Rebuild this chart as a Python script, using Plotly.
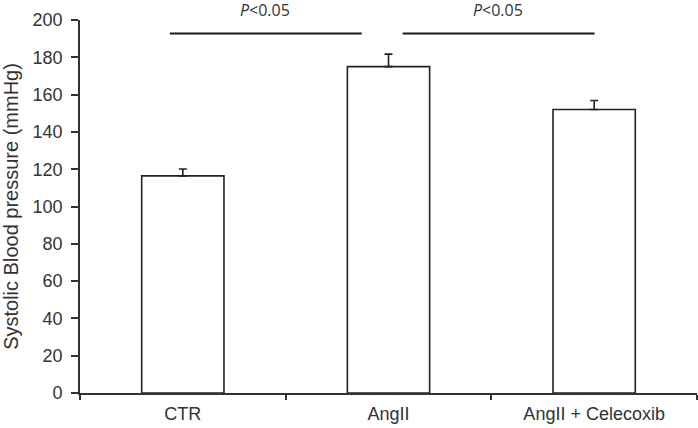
import plotly.graph_objects as go

categories = ["CTR", "AngII", "AngII + Celecoxib"]
sbp_mean = [116.4, 175.0, 152.0]
sbp_sem = [3.7, 6.7, 4.8]

# significance annotations: (from category index, to category index, label)
sig_pairs = [(0, 1, "<i>P</i><0.05"), (1, 2, "<i>P</i><0.05")]
sig_level = 192.8
sig_line_trim = [(-0.063, 0.870), (1.069, 2.002)]
sig_text_x = [0.40, 1.53]

fig = go.Figure()
fig.add_trace(go.Bar(
    x=categories, y=sbp_mean,
    marker=dict(color="white", line=dict(color="#222222", width=1.6)),
    width=0.4,
    error_y=dict(type="data", symmetric=False, array=sbp_sem,
                 arrayminus=[0] * len(sbp_sem),
                 color="#222222", thickness=1.6, width=4),
    showlegend=False,
))

for (a, b, lab), (x0, x1), tx in zip(sig_pairs, sig_line_trim, sig_text_x):
    fig.add_shape(type="line", xref="x", yref="y", x0=x0, x1=x1,
                  y0=sig_level, y1=sig_level,
                  line=dict(color="#1a1a1a", width=2))
    fig.add_annotation(x=tx, y=1.0, xref="x", yref="paper", yanchor="middle",
                       yshift=10, text=lab, showarrow=False,
                       font=dict(family="Open Sans", size=16, color="#333333"))

fig.update_layout(
    width=698, height=428,
    margin=dict(l=80, r=1, t=20, b=35),
    paper_bgcolor="white", plot_bgcolor="white",
    font=dict(family="Liberation Sans, Arial", size=18, color="#333333"),
    bargap=0.6,
)
fig.update_xaxes(
    type="category", range=[-0.5, 2.5],
    showline=True, linecolor="#333333", linewidth=1.6,
    ticks="outside", tickson="boundaries", ticklen=5, tickwidth=1.6,
    tickcolor="#333333", tickfont=dict(size=18), showgrid=False,
    ticklabelstandoff=4,
)
fig.update_yaxes(
    range=[0, 200], dtick=20,
    showline=True, linecolor="#333333", linewidth=1.6,
    ticks="outside", ticklen=7, tickwidth=1.6, tickcolor="#333333",
    showgrid=False, zeroline=False, tickfont=dict(size=18),
    ticklabelstandoff=5,
    title=dict(text="Systolic Blood pressure (mmHg)", font=dict(size=20),
               standoff=10),
)

fig.write_html("out.html", config={"displayModeBar": False},
               post_script="document.body.style.margin='0';")
